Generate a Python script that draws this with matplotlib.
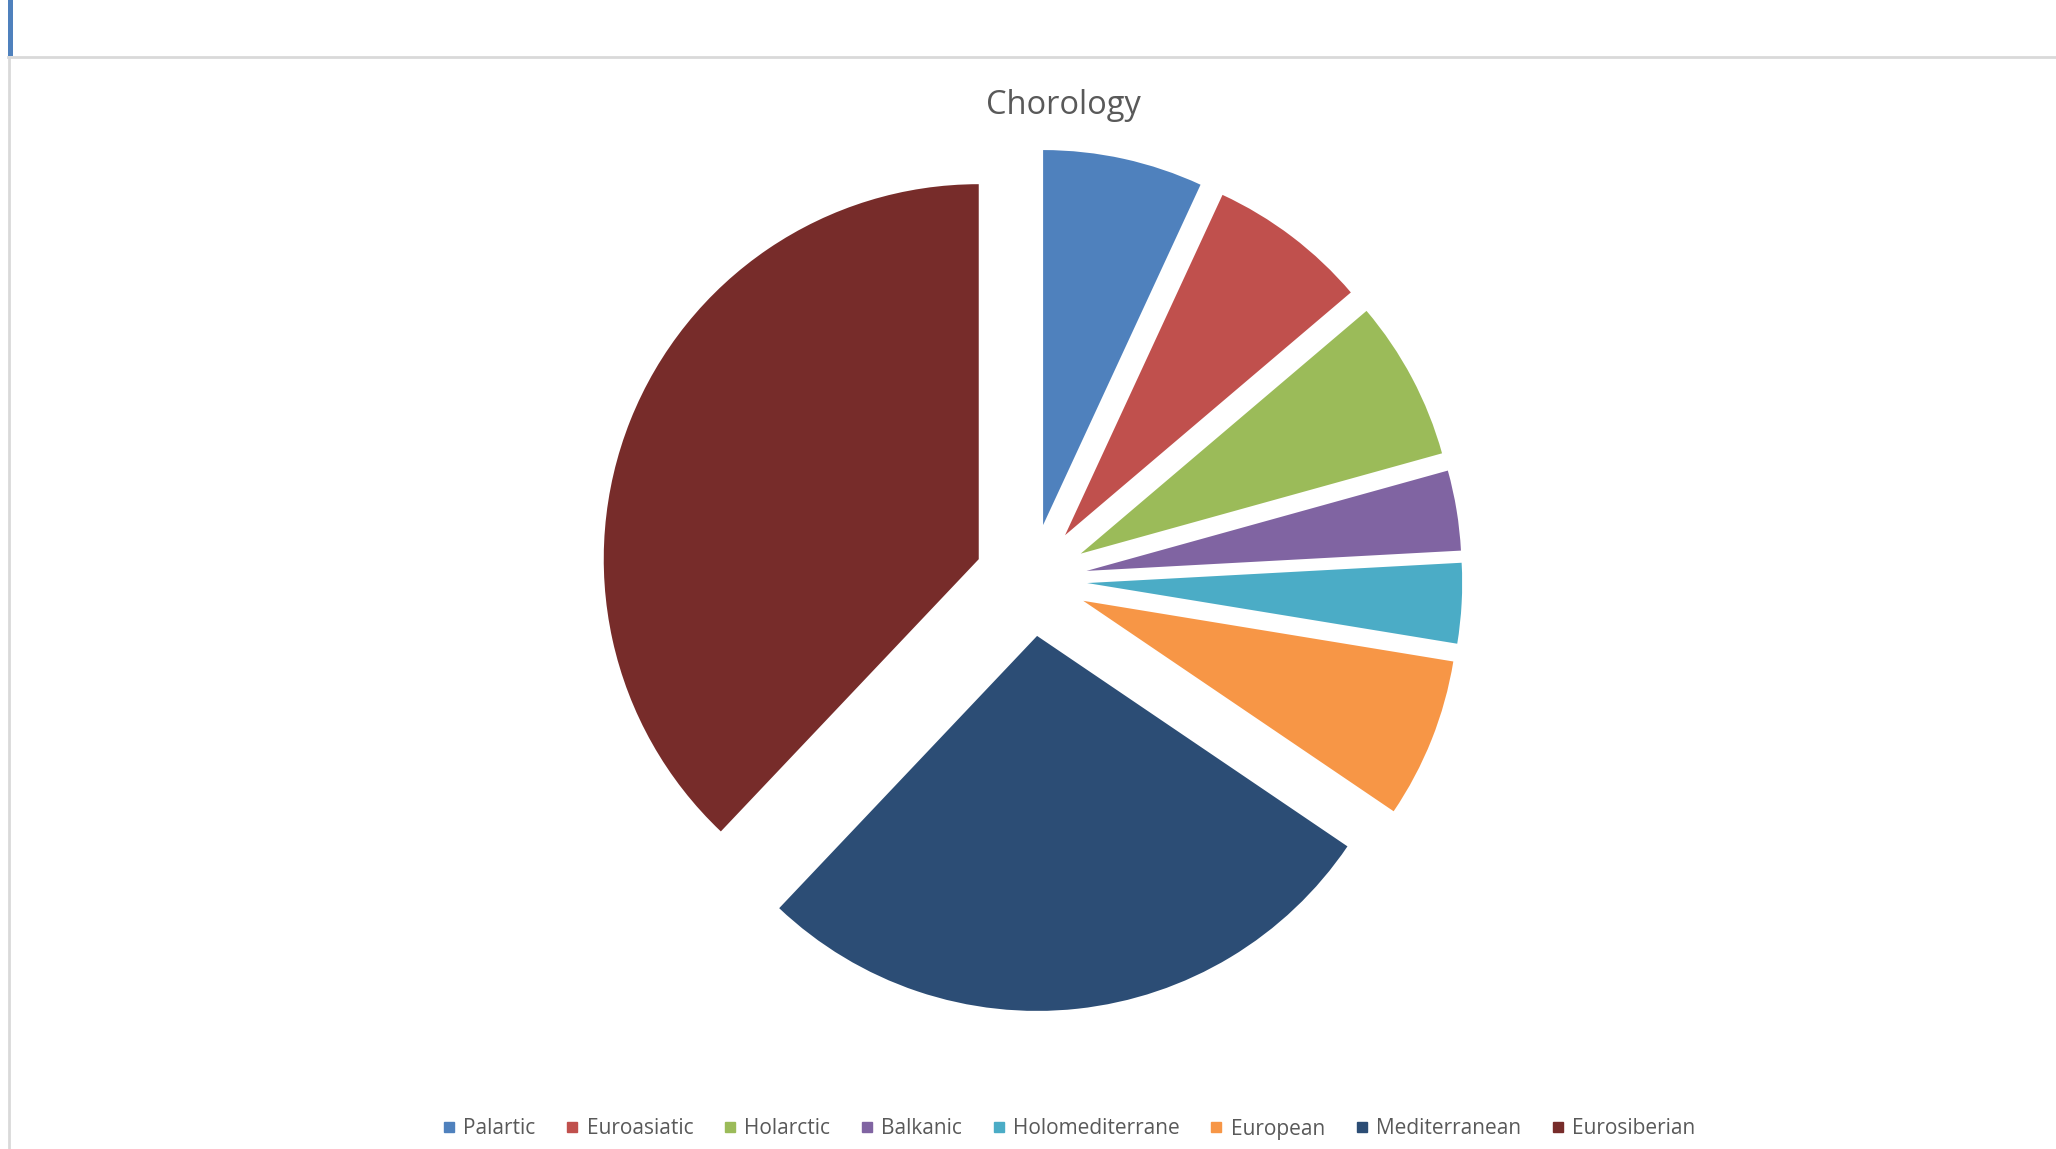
import matplotlib
matplotlib.use("Agg")
import matplotlib.pyplot as plt
from matplotlib.lines import Line2D
from matplotlib.patches import Rectangle

plt.rcParams['font.family'] = ['Open Sans', 'DejaVu Sans']

# chorology counts (species per group)
labels = ['Palartic', 'Euroasiatic', 'Holarctic', 'Balkanic', 'Holomediterrane',
          'European', 'Mediterranean', 'Eurosiberian']
counts = [2, 2, 2, 1, 1, 2, 8, 11]
colors = ['#4F81BD', '#C0504D', '#9BBB59', '#8064A2', '#4BACC6',
          '#F79646', '#2C4D75', '#772C2A']

W, H = 2056, 1149
fig = plt.figure(figsize=(W / 100, H / 100), dpi=100)
ax = fig.add_axes([0, 0, 1, 1])

wedges, _ = ax.pie(counts, colors=colors, startangle=90, counterclock=False,
                   explode=[0.15] * len(counts), radius=1.0)

# place pie: centre at (1031, 580) px from top-left, radius 375 px
cx, cy, r = 1031, 580, 375
ax.set_xlim(-cx / r, (W - cx) / r)
ax.set_ylim(-(H - cy) / r, cy / r)
ax.set_aspect('auto')
ax.axis('off')

fig.text(1063 / W, 1 - 105 / H, 'Chorology', ha='center', va='center',
         fontsize=23.5, color='#595959')

handles = [Line2D([], [], marker='s', linestyle='none', markersize=6.5,
                  markerfacecolor=c, markeredgecolor=c) for c in colors]
fig.legend(handles, labels, loc='center', bbox_to_anchor=(1069 / W, 1 - 1129 / H),
           ncol=len(labels), frameon=False, fontsize=15, labelcolor='#595959',
           handlelength=0.6, handletextpad=0.4, columnspacing=1.45)

# spreadsheet frame around the chart
fig.add_artist(Rectangle((8 / W, 1 - 56 / H), 5 / W, 56 / H, transform=fig.transFigure,
                         color='#4F81BD', lw=0))
fig.add_artist(Line2D([8 / W, 1], [1 - 57 / H, 1 - 57 / H], transform=fig.transFigure,
                      color='#D9D9D9', lw=2))
fig.add_artist(Line2D([9 / W, 9 / W], [0, 1 - 57 / H], transform=fig.transFigure,
                      color='#D9D9D9', lw=2))

fig.savefig('out.png', dpi=100)
